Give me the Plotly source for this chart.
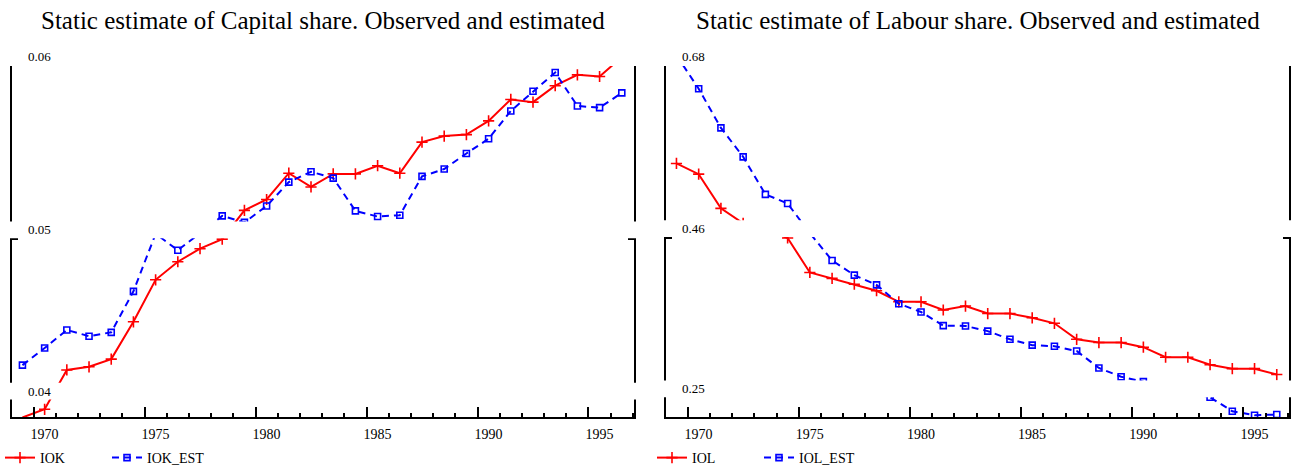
import plotly.graph_objects as go
from plotly.subplots import make_subplots

# ---- data -------------------------------------------------------------
years = list(range(1969, 1997))

iok = [0.03934, 0.03983, 0.04218, 0.04237, 0.04283, 0.04506, 0.04757, 0.04865,
       0.04943, 0.05000, 0.05172, 0.05237, 0.05394, 0.05312, 0.05390, 0.05390,
       0.05439, 0.05394, 0.05580, 0.05616, 0.05625, 0.05707, 0.05835, 0.05819,
       0.05917, 0.05982, 0.05972, 0.06088]
iok_est = [0.04247, 0.04349, 0.04457, 0.04420, 0.04443, 0.04688, 0.05032, 0.04934,
           0.05035, 0.05139, 0.05100, 0.05198, 0.05341, 0.05403, 0.05365, 0.05169,
           0.05135, 0.05143, 0.05375, 0.05419, 0.05512, 0.05600, 0.05766, 0.05884,
           0.05996, 0.05796, 0.05786, 0.05874]

iol = [0.5565, 0.5426, 0.4983, 0.4790, 0.4714, 0.4600, 0.4154, 0.4078,
       0.4002, 0.3917, 0.3774, 0.3774, 0.3668, 0.3719, 0.3622, 0.3622,
       0.3567, 0.3496, 0.3289, 0.3247, 0.3247, 0.3187, 0.3057, 0.3057,
       0.2960, 0.2909, 0.2909, 0.2833]
iol_est = [0.6965, 0.6531, 0.6025, 0.5650, 0.5165, 0.5046, 0.4663, 0.4309,
           0.4119, 0.3993, 0.3749, 0.3643, 0.3466, 0.3462, 0.3395, 0.3289,
           0.3213, 0.3200, 0.3137, 0.2918, 0.2804, 0.2741, 0.2665, 0.2602,
           0.2539, 0.2358, 0.2307, 0.2315]

# y ticks (positions and their rounded labels)
k_ticks = [0.06035, 0.05, 0.04036]
k_tick_text = ["0.06", "0.05", "0.04"]
l_ticks = [0.6826, 0.46, 0.2526]
l_tick_text = ["0.68", "0.46", "0.25"]

# x ticks: year boundaries, labels centred on the year
x_tick_years = [1970, 1975, 1980, 1985, 1990, 1995]

titles = ["Static estimate of Capital share. Observed and estimated",
          "Static estimate of Labour share. Observed and estimated"]

# ---- styling ------------------------------------------------------------
W, H = 1292, 470
TOP, BOTTOM = 66, 47
PLOT_H = H - TOP - BOTTOM
SERIF = "Liberation Serif, Times New Roman, serif"
RED, BLUE = "#ff0000", "#0000ff"
BAND_PX = 18

x_range = [1968.53, 1996.55]
y_ranges = [[0.039357, 0.060349], [0.228089, 0.682587]]
domains = [[12 / W, 634 / W], [666 / W, 1289 / W]]

fig = make_subplots(rows=1, cols=2)

panels = [
    (iok, iok_est, "IOK", "IOK_EST", k_ticks, k_tick_text, "legend"),
    (iol, iol_est, "IOL", "IOL_EST", l_ticks, l_tick_text, "legend2"),
]

shapes = []
annotations = []
for i, (obs, est, n_obs, n_est, ticks, tick_text, leg) in enumerate(panels):
    col = i + 1
    fig.add_trace(go.Scatter(
        x=years, y=obs, name=n_obs, mode="lines+markers", legend=leg,
        line=dict(color=RED, width=2),
        marker=dict(symbol="cross-thin", size=8, line=dict(color=RED, width=1.6)),
        cliponaxis=False,
    ), row=1, col=col)
    fig.add_trace(go.Scatter(
        x=years, y=est, name=n_est, mode="lines+markers", legend=leg,
        line=dict(color=BLUE, width=2, dash="7px,5px"),
        marker=dict(symbol="square-open", size=6, color=BLUE,
                    line=dict(color=BLUE, width=1.6)),
        cliponaxis=False,
    ), row=1, col=col)

    xa = "x" if i == 0 else "x2"
    ya = "y" if i == 0 else "y2"
    lo, hi = y_ranges[i]

    # white label bands across the panel at each y tick
    for t, txt in zip(ticks, tick_text):
        f = (t - lo) / (hi - lo)
        shapes.append(dict(
            type="rect", xref=f"{xa} domain", yref=f"{ya} domain",
            x0=-0.012, x1=1.012, y0=f + 1.0 / PLOT_H, y1=f + BAND_PX / PLOT_H,
            fillcolor="white", line=dict(width=0), layer="above",
        ))
        annotations.append(dict(
            xref=f"{xa} domain", yref=f"{ya} domain", x=14 / 622,
            y=f + 9.5 / PLOT_H,
            text=txt, showarrow=False, xanchor="left", yanchor="middle",
            font=dict(family=SERIF, size=13, color="black"),
        ))

    # panel title, placed in paper units (paper spans the plotting rows)
    annotations.append(dict(
        xref="paper", yref="paper", x=(domains[i][0] + domains[i][1]) / 2,
        y=(H - BOTTOM - 20) / PLOT_H, text=titles[i], showarrow=False,
        xanchor="center", yanchor="middle",
        font=dict(family=SERIF, size=25, color="black"),
    ))

axis_common = dict(showgrid=False, zeroline=False, linecolor="black", linewidth=2)

for i in range(2):
    fig.update_xaxes(
        **axis_common, domain=domains[i], range=x_range, showline=True,
        ticks="inside", ticklen=10, tickwidth=2, tickcolor="black",
        tickvals=[y - 0.5 for y in x_tick_years],
        ticktext=[str(y) for y in x_tick_years],
        ticklabelshift=11, ticklabelstandoff=3,
        tickfont=dict(family=SERIF, size=14, color="black"),
        minor=dict(ticks="inside", ticklen=4, tickwidth=1.5, tickcolor="black",
                   tick0=1968.5, dtick=1),
        row=1, col=i + 1,
    )
    fig.update_yaxes(
        **axis_common, range=y_ranges[i], showline=True, mirror="ticks",
        ticks="inside", ticklen=6, tickwidth=2, tickcolor="black",
        tickvals=[panels[i][4][1]], showticklabels=False,
        row=1, col=i + 1,
    )

legend_style = dict(
    orientation="h", yref="container", xref="container",
    y=(H - 458) / H, yanchor="middle",
    xanchor="left", bgcolor="rgba(0,0,0,0)", borderwidth=0,
    font=dict(family=SERIF, size=14, color="black"),
    entrywidth=62, entrywidthmode="pixels", itemwidth=30,
)

fig.update_layout(
    width=W, height=H,
    margin=dict(l=0, r=0, t=TOP, b=BOTTOM, pad=0),
    paper_bgcolor="white", plot_bgcolor="white",
    shapes=shapes, annotations=annotations,
    legend=dict(**legend_style, x=-0.004),
    legend2=dict(**legend_style, x=652 / W),
    showlegend=True,
)

fig.write_html("out.html")
